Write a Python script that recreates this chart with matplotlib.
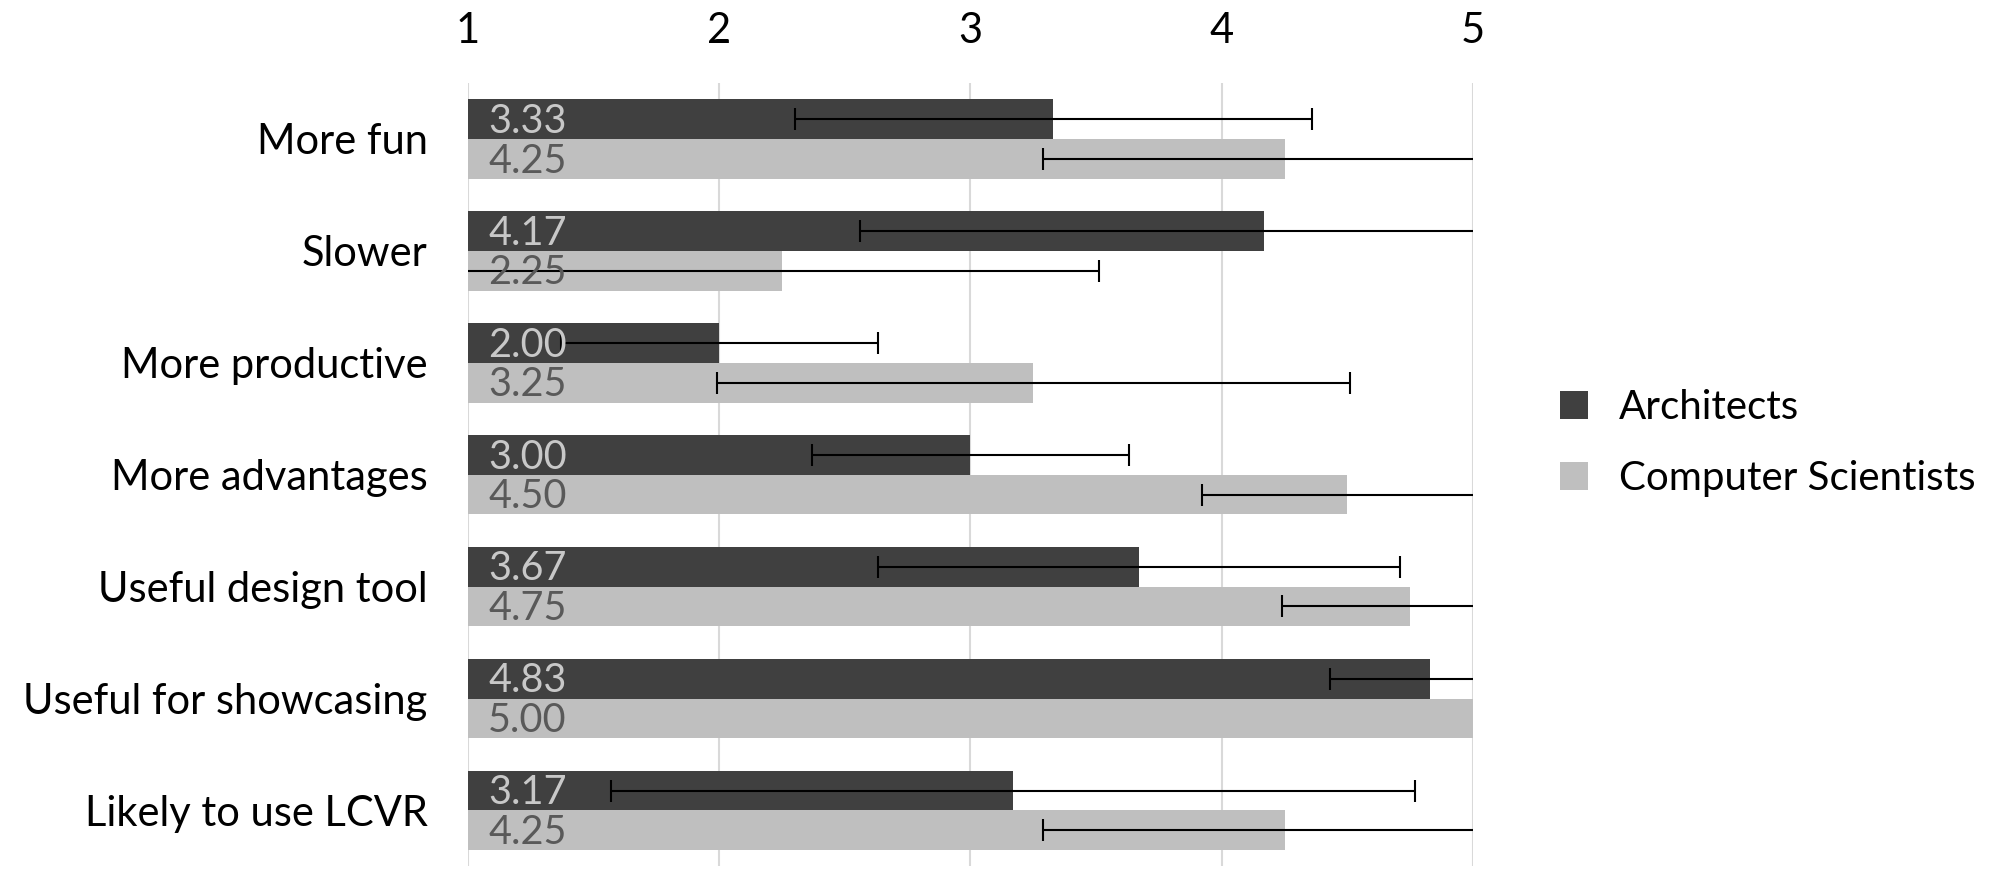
import matplotlib
matplotlib.use("Agg")
import matplotlib.pyplot as plt
import numpy as np

plt.rcParams['font.family'] = ['Lato', 'DejaVu Sans']

categories = ['More fun', 'Slower', 'More productive', 'More advantages',
              'Useful design tool', 'Useful for showcasing', 'Likely to use LCVR']
architects = [3.33, 4.17, 2.00, 3.00, 3.67, 4.83, 3.17]
architects_sd = [1.03, 1.61, 0.63, 0.63, 1.04, 0.40, 1.60]
cs = [4.25, 2.25, 3.25, 4.50, 4.75, 5.00, 4.25]
cs_sd = [0.96, 1.26, 1.26, 0.58, 0.51, 0.0, 0.96]
series_names = ['Architects', 'Computer Scientists']

dark = '#404040'
light = '#bfbfbf'

fig = plt.figure(figsize=(20, 8.69), dpi=100)
ax = fig.add_axes([0.234, 0.003, 0.5025, 0.9015])

y = np.arange(len(categories))
h = 0.355
base = 1.0

ax.barh(y - h / 2, np.array(architects) - base, height=h, left=base, color=dark, label=series_names[0], zorder=2)
ax.barh(y + h / 2, np.array(cs) - base, height=h, left=base, color=light, label=series_names[1], zorder=2)

# zero spread -> no error bar drawn at all
a_err = np.where(np.array(architects_sd) > 0, architects_sd, np.nan)
c_err = np.where(np.array(cs_sd) > 0, cs_sd, np.nan)
ax.errorbar(architects, y - h / 2, xerr=a_err, fmt='none', ecolor='black',
            elinewidth=1.5, capsize=8, capthick=1.5, zorder=3)
ax.errorbar(cs, y + h / 2, xerr=c_err, fmt='none', ecolor='black',
            elinewidth=1.5, capsize=8, capthick=1.5, zorder=3)

for i in range(len(categories)):
    ax.text(1.08, y[i] - h / 2 + 0.02, '%.2f' % architects[i], va='center', ha='left',
            fontsize=28.5, color='#c8c8c8', zorder=4)
    ax.text(1.08, y[i] + h / 2 + 0.02, '%.2f' % cs[i], va='center', ha='left',
            fontsize=28.5, color='#595959', zorder=4)

ax.set_xlim(1, 5)
ax.set_ylim(len(categories) - 0.5, -0.5)
ax.set_xticks([1, 2, 3, 4, 5])
ax.xaxis.tick_top()
ax.tick_params(axis='x', length=0, labelsize=30, pad=24)
ax.set_yticks(y)
ax.set_yticklabels(categories)
ax.tick_params(axis='y', length=0, labelsize=30, pad=29)
ax.grid(axis='x', color='#d9d9d9', linewidth=1.5, zorder=0)
ax.set_axisbelow(True)
for s in ax.spines.values():
    s.set_visible(False)

leg = fig.legend(loc='center left', bbox_to_anchor=(0.762, 0.49), frameon=False,
                 fontsize=29, handlelength=0.7, handleheight=0.7, labelspacing=0.85,
                 handletextpad=0.75)

fig.savefig('out.png', dpi=100)
